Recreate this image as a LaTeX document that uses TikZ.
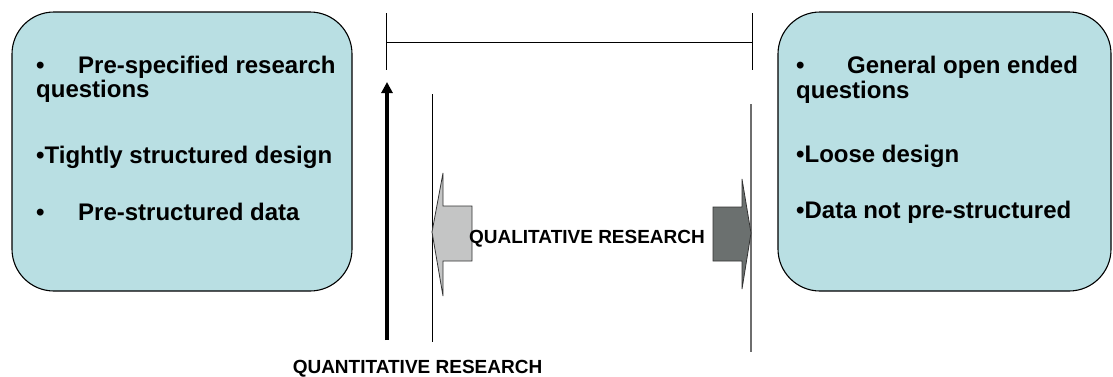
\documentclass[tikz,border=0pt]{standalone}
\usepackage{fontspec}
\setmainfont{Liberation Sans}
\usetikzlibrary{arrows.meta}
\definecolor{boxfill}{RGB}{185,223,227}
\definecolor{lightarrow}{RGB}{196,197,197}
\definecolor{darkarrow}{RGB}{107,112,111}
\definecolor{linegray}{RGB}{110,110,110}
\begin{document}
\begin{tikzpicture}[x=1pt,y=-1pt,
  infobox/.style={draw=black, line width=1.1pt, fill=boxfill, rounded corners=42pt, inner sep=0pt},
  boxtext/.style={anchor=base west, inner sep=0pt, font=\fontsize{24}{28}\selectfont\bfseries},
  labeltext/.style={anchor=base, inner sep=0pt, font=\fontsize{19}{22}\selectfont\bfseries},
  thinline/.style={line width=0.9pt, black},
  blockarrow/.style={draw=black!80, line width=0.8pt}
]
\useasboundingbox (0,0) rectangle (1113,376);

% boxes
\node[infobox, minimum width=340pt, minimum height=279pt] (lbox) at (182,151.5) {};
\node[infobox, minimum width=333pt, minimum height=279pt] (rbox) at (944.5,151.5) {};

% left box text
\node[boxtext] (l1) at (36,73) {\makebox[42pt][l]{•}Pre-specified research};
\node[boxtext] (l2) at (36,97) {questions};
\node[boxtext] (l3) at (36,163) {•Tightly structured design};
\node[boxtext] (l4) at (36,220) {\makebox[42pt][l]{•}Pre-structured data};

% right box text
\node[boxtext] (r1) at (796,73) {\makebox[51pt][l]{•}General open ended};
\node[boxtext] (r2) at (796,98) {questions};
\node[boxtext] (r3) at (796,162) {•Loose design};
\node[boxtext] (r4) at (796,218) {•Data not pre-structured};

% top bracket
\coordinate (at) at (386.5,13);
\coordinate (ab) at (386.5,70);
\coordinate (bt) at (752,13);
\coordinate (bb) at (752,70);
\coordinate (am) at (386.5,42);
\coordinate (bm) at (752,42);
\draw[thinline] (at) -- (ab);
\draw[thinline] (bt) -- (bb);
\draw[thinline] (am) -- (bm);

% thick arrow
\coordinate (qbot) at (387,340);
\coordinate (qtop) at (387,82);
\draw[line width=3.6pt, -{Triangle[width=11pt,length=11pt]}] (qbot) -- (qtop);

% thin vertical lines
\coordinate (ct) at (432,94);
\coordinate (cb) at (432,342);
\draw[thinline] (ct) -- (cb);
\coordinate (dt) at (751,104);
\coordinate (db) at (751,352);
\draw[line width=1.4pt, linegray] (dt) -- (db);

% block arrows
\draw[blockarrow, fill=lightarrow] (432,232) -- (443,173) -- (443,206) -- (472,206) -- (472,261) -- (443,261) -- (443,296) -- cycle;
\draw[blockarrow, fill=darkarrow] (751,233) -- (742,179) -- (742,207) -- (713,207) -- (713,261) -- (742,261) -- (742,289) -- cycle;

% labels
\node[labeltext] (qual) at (587,243) {QUALITATIVE RESEARCH};
\node[labeltext] (quant) at (417.5,373) {QUANTITATIVE RESEARCH};
\end{tikzpicture}
\end{document}
